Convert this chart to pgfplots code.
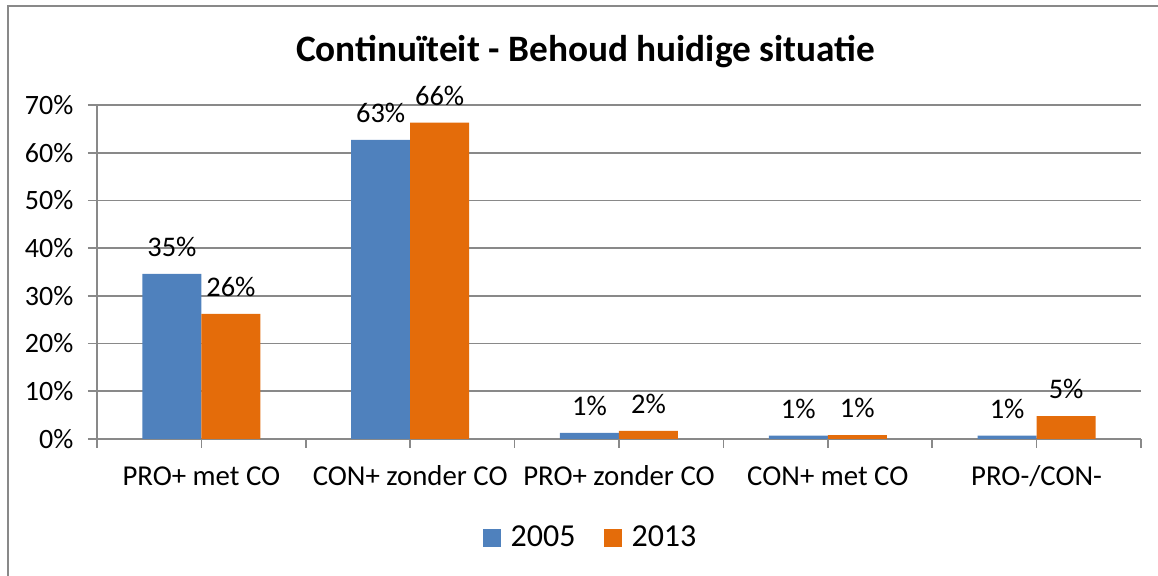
\documentclass[border=0pt]{standalone}
\usepackage{fontspec}
\setmainfont{Carlito}
\usepackage{pgfplots}
\pgfplotsset{compat=1.18}
\definecolor{cblue}{HTML}{4F81BD}
\definecolor{corange}{HTML}{E46C0A}
\definecolor{gridgray}{HTML}{898989}
\pgfplotsset{sqlegend/.style={legend image code/.code={\fill[##1] (0pt,-4.5pt) rectangle (9pt,4.5pt);}}}
\begin{document}
\begin{tikzpicture}
\path[use as bounding box] (0,0) rectangle (579pt,288pt);
\draw[gridgray, line width=0.7pt] (4pt,-5pt) -- (4pt,285pt) -- (590pt,285pt);
\begin{axis}[
  at={(48.5pt,68.5pt)}, anchor=south west,
  scale only axis, width=522pt, height=167pt,
  ybar=0pt, bar width=29.5pt,
  xmin=-0.5, xmax=4.5, ymin=0, ymax=70,
  axis x line*=bottom, axis y line*=left,
  axis line style={gridgray, line width=0.8pt},
  /pgf/number format/assume math mode=true,
  ytick={0,10,...,70},
  yticklabel={\pgfmathprintnumber{\tick}\%},
  yticklabel style={xshift=-3.8pt, font=\fontsize{14}{16}\selectfont},
  ymajorgrids, grid style={gridgray, line width=0.8pt},
  xtick={-0.5,0.5,...,4.5}, xticklabels={},
  extra x ticks={0,1,2,3,4},
  extra x tick labels={PRO+ met CO, CON+ zonder CO, PRO+ zonder CO, CON+ met CO, PRO-/CON-},
  extra x tick style={draw=none},
  xticklabel style={anchor=base, yshift=-19pt, font=\fontsize{14.4}{16}\selectfont},
  tick align=outside, major tick length=4.5pt,
  tick style={gridgray, line width=0.8pt},
  ticklabel style={text=black},
  nodes near coords={\pgfmathprintnumber[fixed,precision=0]{\pgfplotspointmeta}\%},
  nodes near coords style={font=\fontsize{14.2}{16}\selectfont, text=black, yshift=5pt},
  title={Continuïteit - Behoud huidige situatie},
  title style={font=\bfseries\fontsize{18.65}{22}\selectfont, at={(axis description cs:0.468,1.0928)}, anchor=base},
  every axis plot post/.append style={sqlegend},
  legend columns=2,
  legend style={draw=none, at={(axis description cs:0.4737,-0.2964)}, anchor=center,
    font=\fontsize{16}{18}\selectfont,
    /tikz/every odd column/.append style={column sep=3pt},
    /tikz/every even column/.append style={column sep=12pt}},
]
\addplot[fill=cblue, draw=none] coordinates {(0,34.6) (1,62.7) (2,1.3) (3,0.7) (4,0.7)};
\addplot[fill=corange, draw=none] coordinates {(0,26.2) (1,66.3) (2,1.7) (3,0.8) (4,4.8)};
\legend{2005,2013}
\end{axis}
\end{tikzpicture}
\end{document}
